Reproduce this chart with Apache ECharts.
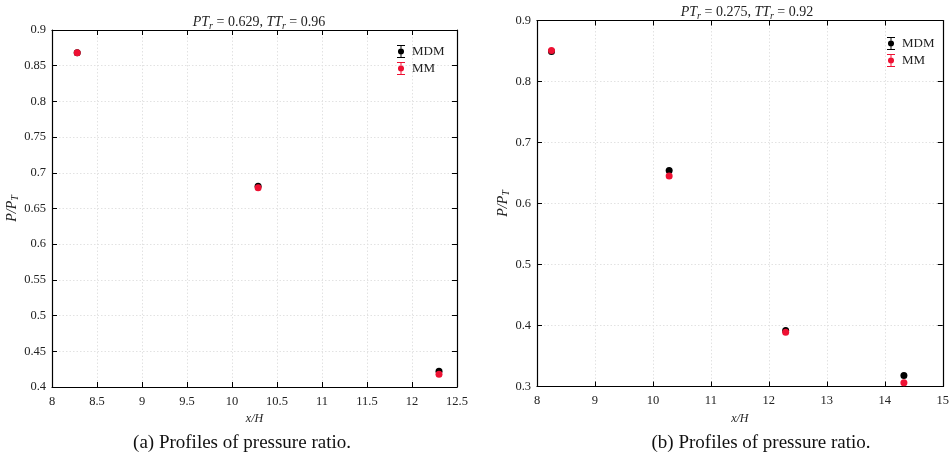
<!DOCTYPE html>
<html>
<head>
<meta charset="utf-8">
<script src="https://cdn.jsdelivr.net/npm/echarts@6/dist/echarts.min.js"></script>
<style>
  html, body { margin: 0; padding: 0; background: #fff; }
  #chart { width: 952px; height: 461px; }
</style>
</head>
<body>
<div id="chart"></div>
<script>
// Case (a): PT_r = 0.629, TT_r = 0.96
const xA = [8.28, 10.29, 12.30];
const mdmA = [0.868, 0.681, 0.422];
const mmA = [0.868, 0.679, 0.418];

// Case (b): PT_r = 0.275, TT_r = 0.92
const xB = [8.25, 10.28, 12.29, 14.33];
const mdmB = [0.849, 0.654, 0.392, 0.318];
const mmB = [0.851, 0.645, 0.389, 0.306];

const seriesNames = ['MDM', 'MM'];
const captions = ['(a) Profiles of pressure ratio.', '(b) Profiles of pressure ratio.'];

const SERIF = '"Liberation Serif", "DejaVu Serif", serif';
const RED = '#ee1133';

// marker with error-bar whiskers, used as the legend icon
const errIcon = 'path://M0,0H10V1.2H5.6V14.8H10V16H0V14.8H4.4V1.2H0Z' +
  'M1.2,8A3.8,3.8 0 1 1 8.8,8A3.8,3.8 0 1 1 1.2,8Z';

const pairs = (xs, ys) => xs.map((x, i) => [x, ys[i]]);

const grids = [
  { left: 52, top: 30, width: 405, height: 357 },
  { left: 537, top: 20.5, width: 411, height: 366 }
];

const tickStyle = { show: true, inside: true, length: 5, lineStyle: { color: '#000', width: 1 } };
const lineStyle = { show: true, lineStyle: { color: '#000', width: 1.2 } };
const labelStyle = { fontFamily: SERIF, fontSize: 12.5, color: '#222' };
const splitStyle = { show: true, lineStyle: { color: '#e2e2e2', type: [1.5, 2], width: 1 } };

function xAxisPair(gi, min, max, interval) {
  return [
    { gridIndex: gi, type: 'value', min, max, interval, position: 'bottom',
      axisLine: lineStyle, axisTick: tickStyle,
      axisLabel: Object.assign({ margin: 8, formatter: v => String(+v.toFixed(2)) }, labelStyle),
      splitLine: splitStyle,
      name: 'x/H', nameLocation: 'middle', nameGap: 24,
      nameTextStyle: { fontFamily: SERIF, fontStyle: 'italic', fontSize: 12, color: '#222' } },
    { gridIndex: gi, type: 'value', min, max, interval, position: 'top',
      axisLine: lineStyle, axisTick: tickStyle, axisLabel: { show: false }, splitLine: { show: false } }
  ];
}

function yAxisPair(gi, min, max, interval, nameGap) {
  return [
    { gridIndex: gi, type: 'value', min, max, interval, position: 'left',
      axisLine: lineStyle, axisTick: tickStyle,
      axisLabel: Object.assign({ margin: 6, formatter: v => String(+v.toFixed(2)) }, labelStyle),
      splitLine: splitStyle,
      name: '{i|P/P}{s|T}', nameLocation: 'middle', nameGap, nameRotate: 90,
      nameTextStyle: { rich: {
        i: { fontFamily: SERIF, fontStyle: 'italic', fontSize: 14, color: '#222' },
        s: { fontFamily: SERIF, fontStyle: 'italic', fontSize: 10, color: '#222', verticalAlign: 'bottom', padding: [6, 0, 0, 0] }
      } } },
    { gridIndex: gi, type: 'value', min, max, interval, position: 'right',
      axisLine: lineStyle, axisTick: tickStyle, axisLabel: { show: false }, splitLine: { show: false } }
  ];
}

function scatter(name, data, xi, yi, color) {
  return {
    name, type: 'scatter', xAxisIndex: xi, yAxisIndex: yi, data,
    symbol: 'circle', symbolSize: 7,
    itemStyle: { color, opacity: 1 },
    z: name === 'MM' ? 3 : 2
  };
}

const richTitle = {
  i: { fontFamily: SERIF, fontStyle: 'italic', fontWeight: 'normal', fontSize: 14, color: '#222' },
  s: { fontFamily: SERIF, fontStyle: 'italic', fontWeight: 'normal', fontSize: 10, color: '#222', verticalAlign: 'bottom', padding: [7, 0, 0, 0] },
  n: { fontFamily: SERIF, fontWeight: 'normal', fontSize: 14, color: '#222' }
};

function legend(left, top) {
  return {
    data: seriesNames, orient: 'vertical', left, top,
    icon: errIcon, itemWidth: 8, itemHeight: 13, itemGap: 4,
    textStyle: { fontFamily: SERIF, fontSize: 13, color: '#222', padding: [0, 0, 0, 2] },
    selectedMode: false
  };
}

const chart = echarts.init(document.getElementById('chart'), null, { renderer: 'canvas' });

chart.setOption({
  animation: false,
  backgroundColor: '#fff',
  title: [
    { text: '{i|PT}{s|r}{n| = 0.629, }{i|TT}{s|r}{n| = 0.96}', left: 254, top: 9, textAlign: 'center',
      textStyle: { fontWeight: 'normal', rich: richTitle } },
    { text: '{i|PT}{s|r}{n| = 0.275, }{i|TT}{s|r}{n| = 0.92}', left: 742, top: -1, textAlign: 'center',
      textStyle: { fontWeight: 'normal', rich: richTitle } },
    { text: captions[0], left: 237, top: 429, textAlign: 'center',
      textStyle: { fontFamily: SERIF, fontSize: 19, fontWeight: 'normal', color: '#111' } },
    { text: captions[1], left: 756, top: 429, textAlign: 'center',
      textStyle: { fontFamily: SERIF, fontSize: 19, fontWeight: 'normal', color: '#111' } }
  ],
  legend: [legend(392, 40), legend(882, 32)],
  grid: grids,
  xAxis: [...xAxisPair(0, 8, 12.5, 0.5), ...xAxisPair(1, 8, 15, 1)],
  yAxis: [...yAxisPair(0, 0.4, 0.9, 0.05, 25), ...yAxisPair(1, 0.3, 0.9, 0.1, 26)],
  series: [
    scatter('MDM', pairs(xA, mdmA), 0, 0, '#000'),
    scatter('MM', pairs(xA, mmA), 0, 0, RED),
    scatter('MDM', pairs(xB, mdmB), 2, 2, '#000'),
    scatter('MM', pairs(xB, mmB), 2, 2, RED)
  ]
});
</script>
</body>
</html>
